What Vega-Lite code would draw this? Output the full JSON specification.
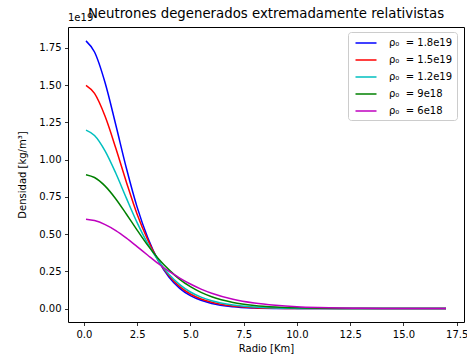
{
  "$schema": "https://vega.github.io/schema/vega-lite/v6.json",
  "width": 396,
  "height": 295,
  "autosize": "none",
  "padding": {"left": 68, "top": 27, "right": 3, "bottom": 36},
  "background": "white",
  "title": {
    "text": "Neutrones degenerados extremadamente relativistas",
    "font": "DejaVu Sans",
    "fontSize": 13.3,
    "fontWeight": "normal",
    "color": "#000",
    "anchor": "middle",
    "frame": "group",
    "offset": -7
  },
  "config": {
    "view": {"stroke": "#000", "strokeWidth": 1},
    "font": "DejaVu Sans",
    "axis": {
      "domain": false,
      "grid": false,
      "tickColor": "#000",
      "tickSize": 3.5,
      "tickWidth": 0.8,
      "labelFont": "DejaVu Sans",
      "labelFontSize": 10,
      "labelColor": "#000",
      "labelPadding": 3.5,
      "titleFont": "DejaVu Sans",
      "titleFontSize": 10,
      "titleFontWeight": "normal",
      "titleColor": "#000"
    },
    "legend": {
      "orient": "none",
      "legendX": 280,
      "legendY": 5,
      "padding": 4,
      "strokeColor": "#cccccc",
      "cornerRadius": 3,
      "fillColor": "white",
      "symbolType": "M-1.75,0L1.75,0",
      "symbolSize": 144,
      "symbolStrokeWidth": 1.5,
      "symbolOffset": 7,
      "labelFont": "DejaVu Sans",
      "labelFontSize": 10,
      "labelColor": "#000",
      "labelOffset": 16,
      "rowPadding": 5
    }
  },
  "data": {
    "values": [
      {"r": 0.1, "b": 1.797, "rd": 1.498, "c": 1.198, "g": 0.899, "m": 0.600},
      {"r": 0.5, "b": 1.722, "rd": 1.444, "c": 1.162, "g": 0.880, "m": 0.591},
      {"r": 1.0, "b": 1.514, "rd": 1.289, "c": 1.057, "g": 0.822, "m": 0.564},
      {"r": 1.5, "b": 1.232, "rd": 1.076, "c": 0.908, "g": 0.736, "m": 0.524},
      {"r": 2.0, "b": 0.940, "rd": 0.847, "c": 0.740, "g": 0.633, "m": 0.473},
      {"r": 2.5, "b": 0.681, "rd": 0.633, "c": 0.577, "g": 0.527, "m": 0.416},
      {"r": 3.0, "b": 0.476, "rd": 0.461, "c": 0.436, "g": 0.424, "m": 0.358},
      {"r": 3.5, "b": 0.320, "rd": 0.321, "c": 0.321, "g": 0.335, "m": 0.301},
      {"r": 4.0, "b": 0.2106, "rd": 0.2196, "c": 0.2285, "g": 0.260, "m": 0.249},
      {"r": 4.5, "b": 0.136, "rd": 0.147, "c": 0.161, "g": 0.196, "m": 0.205},
      {"r": 5.0, "b": 0.0868, "rd": 0.098, "c": 0.1115, "g": 0.1467, "m": 0.165},
      {"r": 5.5, "b": 0.0556, "rd": 0.0642, "c": 0.0767, "g": 0.1084, "m": 0.131},
      {"r": 6.0, "b": 0.0343, "rd": 0.0422, "c": 0.0521, "g": 0.0794, "m": 0.1034},
      {"r": 7.0, "b": 0.0125, "rd": 0.0169, "c": 0.0235, "g": 0.0415, "m": 0.0629},
      {"r": 8.0, "b": 0.0041, "rd": 0.0061, "c": 0.0100, "g": 0.0214, "m": 0.0375},
      {"r": 9.0, "b": 0.0011, "rd": 0.0020, "c": 0.0039, "g": 0.0106, "m": 0.0222},
      {"r": 10.0, "b": 0.0002, "rd": 0.0005, "c": 0.0014, "g": 0.0050, "m": 0.0125},
      {"r": 11.0, "b": 0.0, "rd": 0.0001, "c": 0.0004, "g": 0.0022, "m": 0.0071},
      {"r": 12.0, "b": 0.0, "rd": 0.0, "c": 0.0001, "g": 0.0009, "m": 0.0038},
      {"r": 13.0, "b": 0.0, "rd": 0.0, "c": 0.0, "g": 0.0003, "m": 0.0020},
      {"r": 14.0, "b": 0.0, "rd": 0.0, "c": 0.0, "g": 0.0001, "m": 0.0010},
      {"r": 15.0, "b": 0.0, "rd": 0.0, "c": 0.0, "g": 0.0, "m": 0.00045},
      {"r": 16.0, "b": 0.0, "rd": 0.0, "c": 0.0, "g": 0.0, "m": 0.0002},
      {"r": 17.0, "b": 0.0, "rd": 0.0, "c": 0.0, "g": 0.0, "m": 0.0001}
    ]
  },
  "layer": [
    {
      "transform": [
        {"fold": ["b", "rd", "c", "g", "m"], "as": ["k", "dens"]},
        {"lookup": "k", "from": {"data": {"values": [
          {"k": "b", "serie": "ρ₀\u00a0\u00a0=\u00a01.8e19"},
          {"k": "rd", "serie": "ρ₀\u00a0\u00a0=\u00a01.5e19"},
          {"k": "c", "serie": "ρ₀\u00a0\u00a0=\u00a01.2e19"},
          {"k": "g", "serie": "ρ₀\u00a0\u00a0=\u00a09e18"},
          {"k": "m", "serie": "ρ₀\u00a0\u00a0=\u00a06e18"}
        ]}, "key": "k", "fields": ["serie"]}}
      ],
      "mark": {"type": "line", "strokeWidth": 1.5, "interpolate": "monotone", "clip": true},
      "encoding": {
        "x": {
          "field": "r", "type": "quantitative",
          "scale": {"domain": [-0.745, 17.845], "nice": false, "zero": false},
          "axis": {"values": [0, 2.5, 5, 7.5, 10, 12.5, 15, 17.5], "format": ".1f", "title": "Radio [Km]", "titlePadding": 4}
        },
        "y": {
          "field": "dens", "type": "quantitative",
          "scale": {"domain": [-0.09, 1.89], "nice": false, "zero": false},
          "axis": {"values": [0, 0.25, 0.5, 0.75, 1, 1.25, 1.5, 1.75], "format": ".2f", "title": "Densidad [kg/m³]", "titleX": -46, "titleY": 147.5, "titleBaseline": "middle", "titleAlign": "center", "titleAngle": -90}
        },
        "color": {
          "field": "serie", "type": "nominal",
          "scale": {
            "domain": ["ρ₀\u00a0\u00a0=\u00a01.8e19", "ρ₀\u00a0\u00a0=\u00a01.5e19", "ρ₀\u00a0\u00a0=\u00a01.2e19", "ρ₀\u00a0\u00a0=\u00a09e18", "ρ₀\u00a0\u00a0=\u00a06e18"],
            "range": ["#0000ff", "#ff0000", "#00bfbf", "#008000", "#bf00bf"]
          },
          "legend": {"title": null}
        },
        "order": {"field": "k", "type": "nominal"}
      }
    },
    {
      "data": {"values": [{"t": "1e19"}]},
      "mark": {"type": "text", "align": "left", "baseline": "middle", "dy": -9, "fontSize": 10, "font": "DejaVu Sans", "color": "#000", "clip": false},
      "encoding": {
        "x": {"datum": -0.745, "type": "quantitative"},
        "y": {"datum": 1.89, "type": "quantitative"},
        "text": {"field": "t"}
      }
    }
  ]
}
